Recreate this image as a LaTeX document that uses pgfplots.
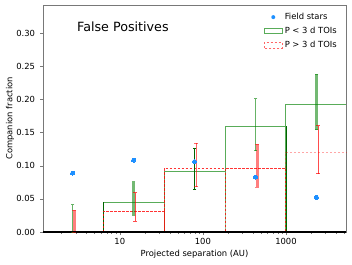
\documentclass[border=0pt]{standalone}
\usepackage{fontspec}
\setmainfont{DejaVu Sans}
\usepackage{pgfplots}
\pgfplotsset{compat=1.18}
\definecolor{mplgreen}{RGB}{0,128,0}
\definecolor{darkgreen}{RGB}{0,100,0}
\definecolor{mplred}{RGB}{255,0,0}
\definecolor{fieldblue}{RGB}{30,144,255}
\definecolor{axgray}{RGB}{120,120,120}
\newcommand{\tf}{\fontsize{8.4bp}{10bp}\selectfont}
\begin{document}
\begin{tikzpicture}
\path[use as bounding box] (-43bp,-33bp) rectangle (309bp,232bp);
\begin{axis}[
  at={(0,0)}, anchor=south west,
  scale only axis, width=303bp, height=227bp,
  xmode=log, xmin=1.19, xmax=5280, ymin=0, ymax=0.343,
  clip=false,
  xtick={10,100,1000}, xticklabels={10,100,1000},
  minor xtick={2,3,4,5,6,7,8,9,20,30,40,50,60,70,80,90,200,300,400,500,600,700,800,900,2000,3000,4000,5000},
  ytick={0,0.05,0.10,0.15,0.20,0.25,0.30},
  /pgf/number format/assume math mode=true,
  tick label style={font=\tf, color=black},
  y tick label style={/pgf/number format/fixed, /pgf/number format/fixed zerofill, /pgf/number format/precision=2, xshift=-1.5bp},
  label style={font=\tf},
  xlabel={Projected separation (AU)},
  ylabel={Companion fraction},
  x label style={at={(axis description cs:0.5,0)}, anchor=center, yshift=-22bp},
  y label style={at={([xshift=-33bp]axis description cs:0,0.5)}, anchor=center},
  tick align=outside, major tick length=3bp, minor tick length=1.8bp,
  xtick pos=bottom, ytick pos=left,
  every tick/.style={axgray, line width=0.6bp},
  axis line style={axgray, line width=0.8bp},
  legend style={at={(rel axis cs:1,1)}, anchor=north east, xshift=-6bp, yshift=-5bp,
    draw=none, fill=none, font=\tf, row sep=2.2bp, inner sep=1bp},
  legend cell align=left,
]
\addlegendimage{legend image code/.code={\path[draw=none, fill=none] (0bp,-2.8bp) rectangle (18bp,2.8bp); \fill[fieldblue, draw=none] (9bp,0bp) circle (2bp);}}
\addlegendentry{Field stars}
\addlegendimage{legend image code/.code={\draw[mplgreen, draw opacity=0.65, line width=1bp] (0bp,-2.8bp) rectangle (18bp,2.8bp);}}
\addlegendentry{P < 3 d TOIs}
\addlegendimage{legend image code/.code={\draw[mplred, draw opacity=0.6, line width=1bp, dash pattern=on 2.5bp off 1.5bp] (0bp,-2.8bp) rectangle (18bp,2.8bp);}}
\addlegendentry{P > 3 d TOIs}

% green histogram (P < 3 d), one stroke
\addplot[mplgreen, draw opacity=0.65, line width=1bp, forget plot] coordinates {
(6.29,0) (6.29,0.045) (34.1,0.045) (34.1,0) (34.1,0.0914) (184.6,0.0914) (184.6,0)
(184.6,0.1595) (1000,0.1595) (1000,0) (1000,0.1925) (5280,0.1925)};
% shared edge darker
\addplot[darkgreen, line width=0.9bp, forget plot] coordinates {(1000,0) (1000,0.1595)};
\addplot[darkgreen, line width=0.9bp, forget plot] coordinates {(6.29,0) (6.29,0.045)};
% red histogram (P > 3 d)
\addplot[mplred, draw opacity=0.8, line width=1bp, dash pattern=on 2.5bp off 1.5bp, forget plot] coordinates {
(6.29,0) (6.29,0.0315) (34.1,0.0315) (34.1,0) (34.1,0.0965) (184.6,0.0965) (184.6,0)
(184.6,0.096) (1000,0.096) (1000,0)};
\addplot[mplred, draw opacity=0.35, line width=1bp, dash pattern=on 2.5bp off 1.5bp, forget plot] coordinates {(1000,0.096) (1000,0.1205) (5280,0.1205)};

% field stars
\addplot[only marks, color=fieldblue, mark=*, mark size=2bp, mark options={draw=fieldblue, fill=fieldblue, line width=0pt}, forget plot] coordinates {
(2.704,0.089) (14.66,0.1085) (79.43,0.1065) (429.5,0.083) (2328,0.0525)};

% green error bars
\addplot[mplgreen, opacity=0.6, line width=1bp, mark=-, mark size=1.8bp, mark options={line width=0.8bp, solid}, forget plot] coordinates {(2.704,0) (2.704,0.0414)};
\addplot[mplgreen, opacity=0.55, line width=3bp, mark=-, mark size=1.8bp, mark options={line width=0.8bp, solid}, forget plot] coordinates {(14.66,0.0258) (14.66,0.076)};
\addplot[darkgreen, line width=1bp, mark=-, mark size=1.8bp, mark options={line width=0.8bp, solid}, forget plot] coordinates {(79.43,0.0647) (79.43,0.127)};
\addplot[mplgreen, opacity=0.6, line width=1bp, mark=-, mark size=1.8bp, mark options={line width=0.8bp, solid}, forget plot] coordinates {(429.5,0.123) (429.5,0.2015)};
\addplot[mplgreen, opacity=0.55, line width=3bp, mark=-, mark size=1.8bp, mark options={line width=0.8bp, solid}, forget plot] coordinates {(2328,0.1545) (2328,0.238)};
% red error bars
\addplot[mplred, opacity=0.5, line width=3bp, mark=-, mark size=1.8bp, mark options={line width=0.8bp, solid}, forget plot] coordinates {(2.83,0) (2.83,0.033)};
\addplot[mplred, opacity=0.7, line width=1bp, mark=-, mark size=1.8bp, mark options={line width=0.8bp, solid}, forget plot] coordinates {(15.35,0.0162) (15.35,0.0596)};
\addplot[mplred, opacity=0.6, line width=1bp, mark=-, mark size=1.8bp, mark options={line width=0.8bp, solid}, forget plot] coordinates {(83.2,0.0687) (83.2,0.134)};
\addplot[mplred, opacity=0.5, line width=3bp, mark=-, mark size=1.8bp, mark options={line width=0.8bp, solid}, forget plot] coordinates {(449.7,0.068) (449.7,0.133)};
\addplot[mplred, opacity=0.7, line width=1bp, mark=-, mark size=1.8bp, mark options={line width=0.8bp, solid}, forget plot] coordinates {(2437,0.0883) (2437,0.1606)};

% zero line
\addplot[black, line width=1.2bp, forget plot] coordinates {(1.19,0) (5280,0)};

\node[anchor=base west, inner sep=0pt, font=\fontsize{12.7bp}{15bp}\selectfont] at (rel axis cs:0.112,0.8824) {False Positives};
\end{axis}
\end{tikzpicture}
\end{document}
